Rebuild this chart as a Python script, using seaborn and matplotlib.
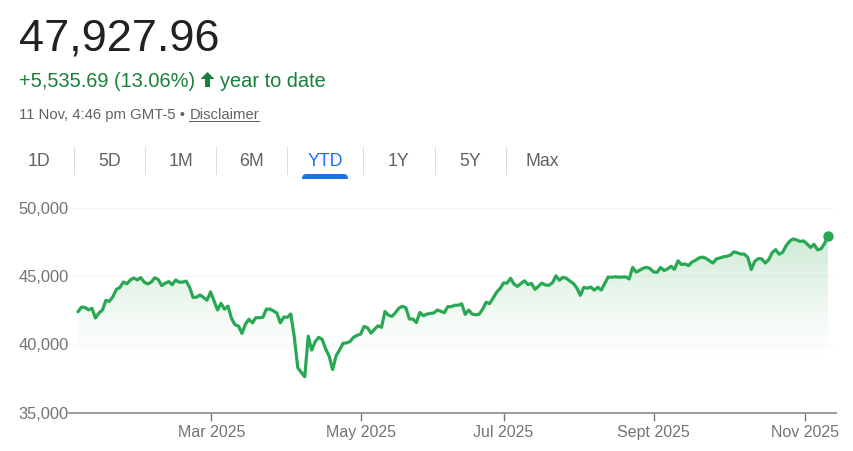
import numpy as np
import pandas as pd
import seaborn as sns
import matplotlib.pyplot as plt
from matplotlib.colors import to_rgb
from matplotlib.patches import Polygon, Rectangle, FancyBboxPatch
from matplotlib.transforms import IdentityTransform

# Closing values per trading day, year to date
jan = [42392, 42732, 42706, 42528, 42635, 41938, 42297, 42518, 43222, 43153, 43488, 44025, 44156, 44565, 44424, 44713, 44850, 44713, 44882, 44545]
feb = [44421, 44556, 44873, 44747, 44303, 44470, 44593, 44368, 44711, 44546, 44556, 44627, 44176, 43428, 43461, 43621, 43433, 43239, 43840]
mar = [43191, 42520, 43006, 42579, 42801, 41911, 41433, 41350, 40813, 41488, 41841, 41581, 41964, 41953, 41985, 42583, 42587, 42455, 42299, 41583, 42001]
apr = [41989, 42225, 40545, 38314, 37965, 37645, 40608, 39593, 40212, 40524, 40368, 39669, 39142, 38170, 39186, 39606, 40093, 40113, 40227, 40527, 40669]
may = [40753, 41317, 41218, 40829, 41113, 41368, 41249, 42410, 42140, 42051, 42322, 42654, 42792, 42677, 41860, 41859, 41603, 42343, 42099, 42215, 42270]
jun = [42305, 42519, 42427, 42319, 42762, 42761, 42866, 42865, 42967, 42197, 42515, 42215, 42171, 42206, 42581, 43089, 42982, 43386, 43819, 44094]
jul = [44494, 44484, 44828, 44406, 44240, 44458, 44650, 44371, 44459, 44023, 44254, 44484, 44342, 44323, 44502, 45010, 44693, 44901, 44837, 44632, 44461, 44130]
aug = [43588, 44173, 44111, 44193, 43968, 44175, 43975, 44458, 44922, 44911, 44946, 44912, 44922, 44938, 44785, 45631, 45282, 45418, 45565, 45636, 45545]
sep = [45295, 45271, 45621, 45401, 45514, 45711, 45490, 46108, 45834, 45883, 45758, 46018, 46142, 46315, 46381, 46292, 46121, 45947, 46247, 46316, 46398]
oct_ = [46441, 46519, 46758, 46695, 46603, 46602, 46358, 45479, 46068, 46270, 46253, 45952, 46190, 46707, 46924, 46590, 46734, 47207, 47544, 47706, 47632, 47522, 47563]
nov = [47336, 47085, 47311, 46912, 46987, 47368, 47928]

y_ticks = [35000, 40000, 45000, 50000]
month_labels = ["Mar 2025", "May 2025", "Jul 2025", "Sept 2025", "Nov 2025"]
month_pos = [38.2, 81, 122, 165, 208.3]
ranges = ["1D", "5D", "1M", "6M", "YTD", "1Y", "5Y", "Max"]
range_x = [39, 110, 181, 252, 325, 399, 470, 542]
sep_x = [74.5, 145.5, 216.5, 287.5, 363.5, 435, 506]

values = jan + feb + mar + apr + may + jun + jul + aug + sep + oct_ + nov
df = pd.DataFrame({"day": range(len(values)), "close": values})

GREEN = "#28a853"
TEXT_GREEN = "#188038"
W, H = 854, 451


def fx(x):
    return x / W


def fy(y):
    return 1 - y / H


sns.set_style("white")
plt.rcParams["font.family"] = ["Liberation Sans", "DejaVu Sans"]
fig = plt.figure(figsize=(8.54, 4.51), dpi=100)
ax = fig.add_axes([fx(69), fy(413), fx(836 - 69), (413 - 207.5) / H])

px_per_day = (828 - 78) / (len(values) - 1)
x_lim = (-(78 - 69) / px_per_day, len(values) - 1 + (836 - 828) / px_per_day)

# area under the line, fades out downwards
rgb = to_rgb("#34a853")
grad = np.zeros((256, 2, 4))
grad[..., :3] = rgb
grad[..., 3] = (0.24 * np.linspace(1, 0, 256) ** 1.3)[:, None]
im = ax.imshow(grad, extent=[0, len(values) - 1, 38870, 47920], aspect="auto", zorder=1)
poly = ax.fill_between(df["day"], df["close"], 35000, color="none", zorder=1)
im.set_clip_path(poly.get_paths()[0], transform=ax.transData)
ax.set_xlim(*x_lim)
ax.set_ylim(35000, 50000)

sns.lineplot(data=df, x="day", y="close", color=GREEN, linewidth=2.3, ax=ax, zorder=3)
ax.plot(df["day"].iloc[-1], df["close"].iloc[-1], "o", color=GREEN, ms=7.5, zorder=4, mew=0)

for v in y_ticks[1:]:
    ax.axhline(v, color="#f7f7f7", lw=1, zorder=0)

for s in ["top", "right", "left"]:
    ax.spines[s].set_visible(False)
ax.spines["bottom"].set_color("#9a9a9a")
ax.spines["bottom"].set_linewidth(1.4)
ax.set_xlabel("")
ax.set_ylabel("")
ax.set_xticks(month_pos, month_labels)
ax.set_yticks(y_ticks, [f"{v:,}" for v in y_ticks])
ax.tick_params(axis="x", bottom=True, length=6, width=1, color="#70757a", labelsize=11.5, labelcolor="#70757a", pad=2.5, direction="out")
ax.tick_params(axis="y", length=0, labelsize=11.9, labelcolor="#70757a", pad=0)

# header
fig.text(fx(19), fy(50.5), "47,927.96", fontsize=32.5, color="#202124")
fig.text(fx(19), fy(87), "+5,535.69 (13.06%)", fontsize=14.4, color=TEXT_GREEN)
fig.add_artist(Polygon([(fx(x), fy(y)) for x, y in [(207.5, 72), (214.5, 79), (210, 79), (210, 87), (205, 87), (205, 79), (200.5, 79)]],
                       closed=True, color=TEXT_GREEN, lw=0, transform=fig.transFigure))
fig.text(fx(220), fy(87), "year to date", fontsize=14.4, color=TEXT_GREEN)
fig.text(fx(19), fy(119.5), "11 Nov, 4:46 pm GMT-5 \u2022", fontsize=10.7, color="#5f6368")
fig.text(fx(189.5), fy(119.5), "Disclaimer", fontsize=10.7, color="#5f6368")
fig.add_artist(Rectangle((fx(189.5), fy(122)), fx(70), 1 / H, color="#5f6368", lw=0, transform=fig.transFigure))

# range tabs
for label, x in zip(ranges, range_x):
    c = "#1a73e8" if label == "YTD" else "#5f6368"
    fig.text(fx(x), fy(166), label, fontsize=12.8, color=c, ha="center")
for x in sep_x:
    fig.add_artist(Rectangle((fx(x), fy(175)), 1 / W, 28 / H, color="#dadce0", lw=0, transform=fig.transFigure))

# pill under the active tab, rounded on top only
pill = FancyBboxPatch((302, H - 186), 46, 12, boxstyle="round,pad=0,rounding_size=4.5", color="#1a73e8", lw=0, transform=IdentityTransform())
fig.add_artist(pill)
pill.set_clip_path(Rectangle((300, H - 179), 50, 8, transform=IdentityTransform()))

fig.savefig("out.png", dpi=100)
plt.close(fig)
